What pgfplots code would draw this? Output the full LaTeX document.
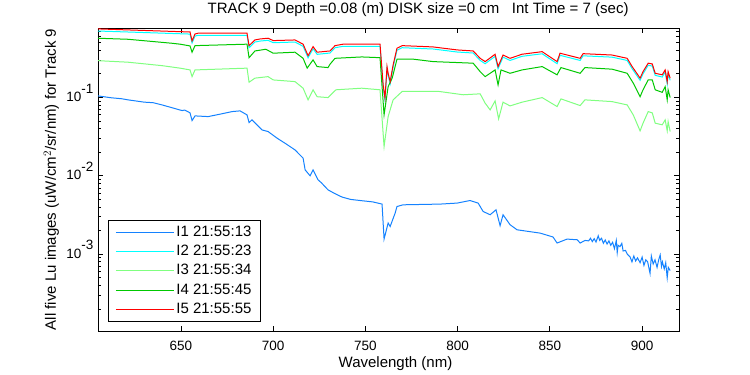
\documentclass[border=0pt]{standalone}
\usepackage{pgfplots}
\pgfplotsset{compat=1.18}
\usepackage{fontspec}
\setmainfont{Liberation Sans}
\newcommand\mf{\fontsize{15}{18}\selectfont}
\newcommand\tf{\fontsize{13.5}{16}\selectfont}
\definecolor{cI1}{RGB}{20,130,255}
\definecolor{cI2}{RGB}{0,255,255}
\definecolor{cI3}{RGB}{128,255,128}
\definecolor{cI4}{RGB}{0,200,0}
\definecolor{cI5}{RGB}{255,0,0}
\newcommand\ex[1]{10\raisebox{0.62em}{#1}}
\begin{document}
\begin{tikzpicture}
\path[use as bounding box] (-98pt,-44pt) rectangle (652pt,331pt);
\begin{axis}[
  scale only axis, width=581pt, height=303pt,
  ymode=log, xmin=605, xmax=920, ymin=1.05e-4, ymax=0.767,
  xtick={650,700,750,800,850,900},
  ytick={1e-3,1e-2,1e-1},
  yticklabels={\ex{-3},\ex{-2},\ex{-1}},
  minor ytick={2e-4,3e-4,4e-4,5e-4,6e-4,7e-4,8e-4,9e-4,2e-3,3e-3,4e-3,5e-3,6e-3,7e-3,8e-3,9e-3,2e-2,3e-2,4e-2,5e-2,6e-2,7e-2,8e-2,9e-2,0.2,0.3,0.4,0.5,0.6,0.7},
  major tick length=5pt, minor tick length=3pt,
  tick style={black, line width=0.8pt},
  axis line style={line width=0.8pt},
  ticklabel style={font=\tf},
  xticklabel style={anchor=base, yshift=-19pt},
  yticklabel style={anchor=base east, xshift=-1pt, yshift=-4pt},
  xticklabel={\pgfmathprintnumber[assume math mode=true]{\tick}},
  title={TRACK 9 Depth =0.08 (m) DISK size =0 cm \ \ Int Time = 7 (sec)},
  title style={font=\mf, at={(axis description cs:0.551,1.0297)}, anchor=base},
  xlabel={Wavelength (nm)},
  xlabel style={font=\mf, at={(axis description cs:0.512,-0.119)}, anchor=base},
  ylabel={All five Lu images (uW/cm$^2$/sr/nm) for Track 9},
  ylabel style={font=\mf, at={(axis description cs:-0.0723,0.5)}, anchor=base, rotate=0},
  legend cell align=left,
  legend style={at={(axis description cs:0.0172,0.3663)}, anchor=north west, draw=black, line width=0.8pt, fill=white, font=\mf, inner xsep=7pt, inner ysep=2pt,
    nodes={text height=11pt, text depth=3pt, inner ysep=2.7pt, line width=1pt}},
  legend image code/.code={\draw[#1] (0pt,0pt) -- (58pt,0pt);},
  every axis plot/.append style={line width=1pt},
]
% I1
\addplot[cI1] coordinates {
(605.0,0.1045)(612,0.0990)(618,0.0960)(621.3,0.0930)(630,0.0870)(635,0.0855)(639.7,0.0802)(645,0.0740)(650.6,0.0679)(652,0.0690)(654.9,0.0635)(656.0,0.0506)(657.6,0.0581)(664.7,0.0569)(671,0.0610)(677.7,0.0659)(682.0,0.0673)(685.8,0.0598)(686.9,0.0478)(688.5,0.0517)(693.9,0.0385)(697.2,0.0367)(702.1,0.0302)(707,0.0255)(711.8,0.0214)(716.2,0.0168)(717.3,0.0119)(720.0,0.0100)(721.6,0.0119)(724.3,0.00889)(726,0.0082)(729.7,0.00663)(733,0.0060)(737.3,0.00536)(742,0.0050)(748.2,0.00481)(754,0.00465)(759.0,0.00436)(760.1,0.00156)(762.3,0.00250)(763.4,0.00226)(766.1,0.00335)(767.1,0.00406)(770.4,0.00427)(790.5,0.00436)(799.7,0.00449)(806.7,0.00484)(811.1,0.00449)(813.8,0.00351)(817.6,0.00319)(820.8,0.00369)(823.0,0.00231)(824.6,0.00319)(828.4,0.00238)(832.2,0.00205)(844.7,0.00186)(851.7,0.00166)(853.9,0.00139)(859.3,0.00156)(864.8,0.00153)(866.4,0.00139)(869.1,0.00150)(871,0.00148)(872,0.00160)(873,0.00145)(874,0.00158)(875,0.00143)(876.2,0.00172)(877,0.00150)(878,0.00160)(879,0.00138)(880,0.00152)(881,0.00135)(882,0.00148)(883,0.00130)(884,0.00142)(885,0.00118)(886,0.00150)(886.5,0.00105)(887,0.00130)(888,0.00125)(889,0.00138)(889.7,0.00110)(891,0.00112)(892,0.00100)(893.5,0.00092)(894.5,0.00080)(895.5,0.00095)(896.5,0.00082)(897.5,0.00090)(898.9,0.00078)(900,0.00092)(901,0.00072)(902,0.00085)(903,0.00080)(904.3,0.00057)(905,0.00095)(906,0.00075)(907,0.00085)(908.1,0.00068)(909,0.00085)(909.8,0.00098)(910.5,0.00070)(911,0.00080)(912,0.00065)(912.8,0.00078)(913.6,0.00050)(914.2,0.00068)(915.2,0.00062)
};
\addlegendentry{I1 21:55:13}
% I2
\addplot[cI2] coordinates {
(605.0,0.702)(621.3,0.682)(649.5,0.648)(654.9,0.642)(656.0,0.494)(657.6,0.605)(659.2,0.619)(685.8,0.619)(686.9,0.430)(690.1,0.508)(692.9,0.523)(697.2,0.534)(700.0,0.498)(711.8,0.508)(716.2,0.448)(718.9,0.320)(721.6,0.417)(723.8,0.354)(730.8,0.368)(733.5,0.430)(737.9,0.448)(757.9,0.448)(759.6,0.135)(760.6,0.092)(761.7,0.232)(762.3,0.191)(763.4,0.149)(765.0,0.243)(767.1,0.399)(769.9,0.430)(786.7,0.414)(799.7,0.379)(808.4,0.368)(812.2,0.296)(814.9,0.269)(820.3,0.334)(821.9,0.232)(824.6,0.326)(828.4,0.296)(834.9,0.334)(845.8,0.360)(853.9,0.269)(855.5,0.344)(866.4,0.296)(868.0,0.339)(883.7,0.326)(891.9,0.296)(894.6,0.232)(898.9,0.165)(900.5,0.200)(903.3,0.257)(905.5,0.251)(907.1,0.191)(910.9,0.182)(912.5,0.211)(913.6,0.149)(914.1,0.200)(915.2,0.165)
};
\addlegendentry{I2 21:55:23}
% I3
\addplot[cI3] coordinates {
(605,0.294)(621.3,0.281)(639.7,0.254)(649.5,0.236)(654.9,0.224)(656.0,0.184)(657.6,0.224)(685.8,0.236)(686.9,0.156)(690.1,0.176)(697.2,0.184)(700.0,0.167)(711.8,0.159)(716.2,0.131)(718.9,0.093)(721.6,0.125)(723.8,0.102)(729.7,0.0995)(734,0.125)(748,0.131)(757.9,0.125)(760.1,0.0236)(762.3,0.0569)(765,0.093)(769.9,0.119)(790,0.119)(803,0.108)(812.2,0.111)(814.9,0.0844)(817.6,0.0693)(820.3,0.0902)(822.2,0.0532)(824.6,0.0869)(828.4,0.0779)(834.9,0.0869)(845.8,0.0994)(853.9,0.0764)(856,0.0957)(866.4,0.0787)(869,0.093)(883.7,0.0884)(891.9,0.0802)(895.2,0.0598)(898.9,0.0374)(900.5,0.0469)(903.3,0.0659)(905.5,0.0635)(907.1,0.0469)(910.9,0.0447)(912.5,0.0517)(913.6,0.0374)(914.1,0.0492)(915.2,0.0367)
};
\addlegendentry{I3 21:55:34}
% I4
\addplot[cI4] coordinates {
(605.0,0.568)(621.3,0.551)(645.1,0.490)(649.5,0.477)(654.9,0.453)(656.0,0.377)(657.6,0.457)(685.8,0.477)(686.9,0.321)(690.1,0.391)(696.0,0.411)(700.0,0.366)(711.8,0.377)(716.2,0.315)(718.4,0.236)(721.6,0.301)(723.8,0.247)(729.7,0.240)(730.8,0.265)(733.5,0.315)(748,0.328)(757.9,0.321)(760.1,0.0598)(762.3,0.137)(764.5,0.176)(767.1,0.307)(776,0.307)(786.7,0.286)(808.4,0.273)(812.2,0.213)(814.9,0.184)(820.3,0.224)(821.9,0.144)(823.5,0.224)(828.4,0.203)(834.9,0.224)(845.8,0.247)(853.9,0.194)(856,0.240)(866.4,0.203)(869,0.240)(883.7,0.229)(891.9,0.203)(895.2,0.152)(898.9,0.102)(900.5,0.125)(903.3,0.167)(905.5,0.167)(907.1,0.125)(910.9,0.116)(912.5,0.137)(913.6,0.093)(914.1,0.125)(915.2,0.0995)
};
\addlegendentry{I4 21:55:45}
% I5
\addplot[cI5] coordinates {
(605.0,0.747)(621.3,0.725)(649.5,0.689)(654.9,0.683)(656.0,0.525)(657.6,0.644)(659.2,0.658)(685.8,0.658)(686.9,0.457)(690.1,0.540)(692.9,0.556)(697.2,0.568)(700.0,0.530)(711.8,0.540)(716.2,0.477)(718.9,0.340)(721.6,0.444)(723.8,0.377)(730.8,0.391)(733.5,0.457)(737.9,0.477)(757.9,0.477)(759.6,0.144)(760.6,0.098)(761.7,0.247)(762.3,0.203)(763.4,0.159)(765.0,0.259)(767.1,0.424)(769.9,0.457)(786.7,0.440)(799.7,0.403)(808.4,0.391)(812.2,0.315)(814.9,0.286)(820.3,0.355)(821.9,0.247)(824.6,0.347)(828.4,0.315)(834.9,0.355)(845.8,0.383)(853.9,0.286)(855.5,0.366)(866.4,0.315)(868.0,0.361)(883.7,0.347)(891.9,0.315)(894.6,0.247)(898.9,0.176)(900.5,0.213)(903.3,0.273)(905.5,0.267)(907.1,0.203)(910.9,0.194)(912.5,0.224)(913.6,0.159)(914.1,0.213)(915.2,0.176)
};
\addlegendentry{I5 21:55:55}
\end{axis}
\end{tikzpicture}
\end{document}
